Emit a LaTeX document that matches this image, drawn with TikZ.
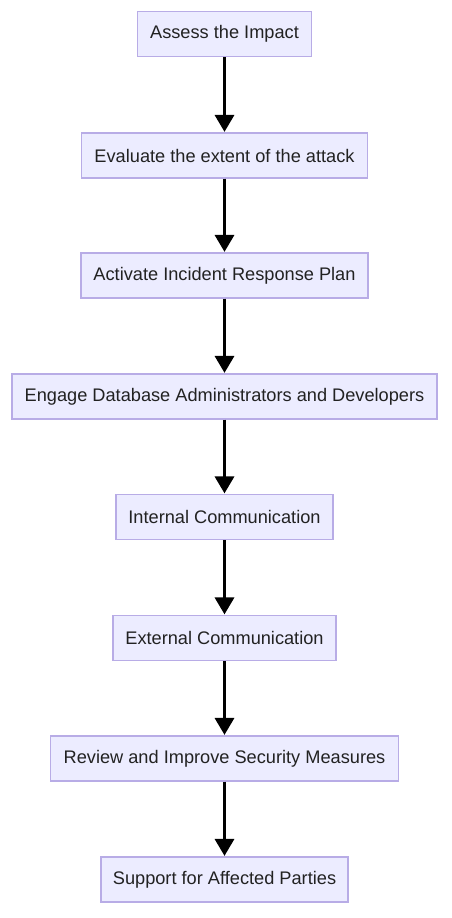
\documentclass[tikz,border=0pt]{standalone}
\usepackage{fontspec}
\setmainfont{Liberation Sans}
\usetikzlibrary{arrows.meta}
\definecolor{boxfill}{HTML}{ECECFF}
\definecolor{boxdraw}{HTML}{B8ACE6}
\definecolor{txt}{HTML}{222222}
\begin{document}
\begin{tikzpicture}[x=1pt,y=-1pt,
  stepbox/.style={draw=boxdraw,fill=boxfill,line width=1.2pt,minimum height=45pt,
    inner sep=0pt,font=\fontsize{18.2}{21}\selectfont,text=txt,anchor=center},
  flow/.style={line width=3.4pt,black,-{Triangle[width=19pt,length=17pt]},shorten >=0.5pt}]
\useasboundingbox (0,0) rectangle (451,918);
\node[stepbox,minimum width=174pt] (n1) at (224.5,34) {Assess the Impact};
\node[stepbox,minimum width=286pt] (n2) at (224.5,155.5) {Evaluate the extent of the attack};
\node[stepbox,minimum width=287pt] (n3) at (224.5,275.5) {Activate Incident Response Plan};
\node[stepbox,minimum width=425pt] (n4) at (224.5,396.5) {Engage Database Administrators and Developers};
\node[stepbox,minimum width=217pt] (n5) at (224.5,517) {Internal Communication};
\node[stepbox,minimum width=223pt] (n6) at (224.5,638) {External Communication};
\node[stepbox,minimum width=348pt] (n7) at (224.5,758.5) {Review and Improve Security Measures};
\node[stepbox,minimum width=247pt] (n8) at (224.5,879.5) {Support for Affected Parties};
\draw[flow] (n1) -- (n2);
\draw[flow] (n2) -- (n3);
\draw[flow] (n3) -- (n4);
\draw[flow] (n4) -- (n5);
\draw[flow] (n5) -- (n6);
\draw[flow] (n6) -- (n7);
\draw[flow] (n7) -- (n8);
\end{tikzpicture}
\end{document}
